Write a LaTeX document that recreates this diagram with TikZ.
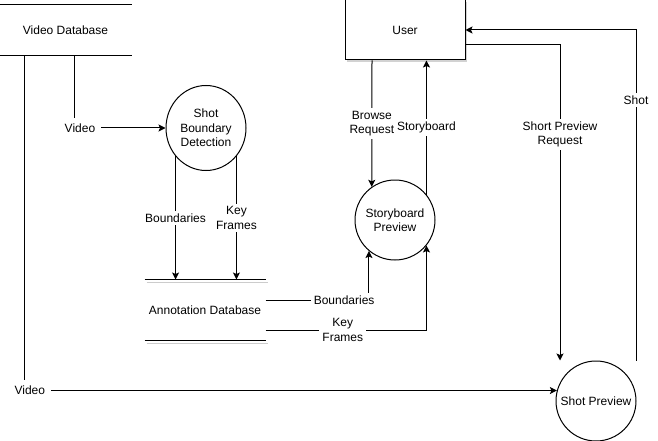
\documentclass[tikz,border=0pt]{standalone}
\usepackage{fontspec}
\setmainfont{Liberation Sans}
\usetikzlibrary{positioning,calc,arrows.meta,shapes.geometric,shadows}

\tikzset{
  proc/.style={draw,ellipse,inner sep=0pt,minimum width=80pt,minimum height=80pt},
  store/.style={inner sep=0pt},
  flow/.style={-{Stealth[length=7pt,width=7pt,inset=1.5pt]}},
  lbl/.style={fill=white,inner sep=3pt}
}

\begin{document}
\begin{tikzpicture}[x=1pt,y=-1pt,line width=1pt,
  every node/.append style={font=\fontsize{12}{14.4}\selectfont,align=center},
  every label/.append style={align=center}]
\useasboundingbox (0,0) rectangle (658,441);

\node[store,minimum width=131pt,minimum height=50pt] (vdb) at (65.5,30) {Video Database};
\draw (vdb.north west)--(vdb.north east) (vdb.south west)--(vdb.south east);

\node[store,minimum width=120pt,minimum height=60pt] (adb) at (205,310) {Annotation Database};
\draw[gray!40] ($(adb.north west)+(2,3)$)--($(adb.north east)+(2,3)$) ($(adb.south west)+(2,3)$)--($(adb.south east)+(2,3)$);
\draw (adb.north west)--(adb.north east) (adb.south west)--(adb.south east);

\node[draw,fill=white,minimum width=120pt,minimum height=60pt,
  drop shadow={shadow xshift=2pt,shadow yshift=-2pt,fill=gray!35,opacity=1}] (user) at (405,30) {User};

\node[proc,minimum height=85pt,label=center:{Shot\\Boundary\\Detection}] (sbd) at (206,128) {};
\node[proc,label=center:{Storyboard\\Preview}] (sbp) at (395,220) {};
\node[proc,label=center:{Shot Preview}] (shp) at (596,401) {};

\coordinate (vdbA) at ($(vdb.south west)+(25,0)$);
\coordinate (vdbB) at ($(vdb.south west)+(75,0)$);
\coordinate (browse) at ($(user.south)+(-33,0)$);
\coordinate (spreq) at ($(user.east)+(0,15)$);
\coordinate (shpL) at ($(shp.north)+(-36,0)$);
\coordinate (shpR) at ($(shp.north)+(40,0)$);

\draw[flow] (vdbB) |- (sbd.west) node[lbl,inner sep=6pt,pos=0.53] {Video};
\draw[flow] (vdbA) |- (shp.165) node[lbl,inner sep=6pt,pos=0.505] {Video};
\draw[flow] (sbd.223) -- (sbd.223 |- adb.north) node[lbl,midway] {Boundaries};
\draw[flow] (sbd.317) -- (sbd.317 |- adb.north) node[lbl,midway] {Key\\Frames};
\draw[flow] ($(adb.east)+(0,-10)$) -| (sbp.230) node[lbl,pos=0.38] {Boundaries};
\draw[flow] ($(adb.east)+(0,20)$) -| (sbp.321) node[lbl,pos=0.24] {Key\\Frames};
\draw[flow] (browse) -- (sbp.125) node[lbl,midway] {Browse\\Request};
\draw[flow] (sbp.39) -- (sbp.39 |- user.south) node[lbl,midway] {Storyboard};
\draw[flow] (spreq) -| (shpL) node[lbl,pos=0.642] {Short Preview\\Request};
\draw[flow] (shpR) |- (user.east) node[lbl,pos=0.394] {Shot};
\end{tikzpicture}
\end{document}
